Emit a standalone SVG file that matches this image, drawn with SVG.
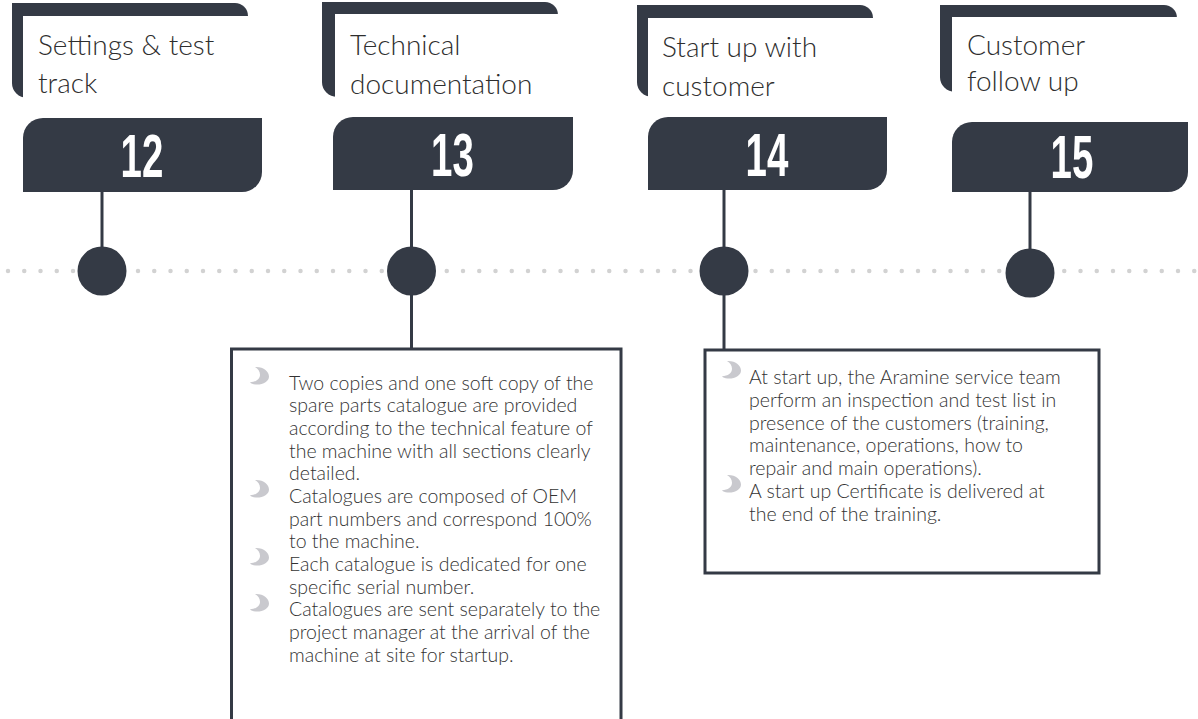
<svg xmlns="http://www.w3.org/2000/svg" width="1198" height="719" viewBox="0 0 1198 719">
<defs>
<style>
.dark{fill:#343a45}
.white{fill:#ffffff}
.title{font-family:Lato,"Liberation Sans",sans-serif;font-weight:300;font-size:28px;fill:#2e2e2e}
.num{font-family:"Liberation Sans",Arial,sans-serif;font-weight:bold;font-size:62px;fill:#ffffff}
.body{font-family:Lato,"Liberation Sans",sans-serif;font-weight:300;font-size:19.5px;fill:#333333}
.conn{stroke:#343a45;stroke-width:3;fill:none}
.box{stroke:#343a45;stroke-width:3;fill:#ffffff}
.bul{fill:#c9c9ce}
</style>
<path id="bullet" d="M5,0 C13.5,-0.5 19,4.5 19,9.5 C19,14.5 13,18 5.5,17.5 C3,17.3 1,16.5 0,15.2 C6,15.2 10,12 10,7.8 C10,4.5 8,1.6 5,0 Z"/>
</defs>
<rect x="0" y="0" width="1198" height="719" fill="#ffffff"/>

<g id="timeline">
<line x1="8" y1="271" x2="1198" y2="271" stroke="#d2d2d2" stroke-width="4.5" stroke-linecap="round" stroke-dasharray="0 16.25"/>
</g>

<g id="connectors">
<line class="conn" x1="102" y1="190" x2="102" y2="255"/>
<line class="conn" x1="411.5" y1="188" x2="411.5" y2="349"/>
<line class="conn" x1="724" y1="188" x2="724" y2="350"/>
<line class="conn" x1="1030" y1="190" x2="1030" y2="258"/>
</g>

<g id="node12">
<path class="dark" d="M12,3 H235 A13,13 0 0 1 248,16 V98 H27 A15,15 0 0 1 12,83 Z"/>
<rect class="white" x="23" y="16" width="240" height="90"/>
<text class="title" x="38" y="55">Settings &amp; test</text>
<text class="title" x="38" y="93">track</text>
<path class="dark" d="M43,118 H262 V172 A20,20 0 0 1 242,192 H23 V138 A20,20 0 0 1 43,118 Z"/>
<text class="num" text-anchor="middle" transform="translate(142,177) scale(0.62,1)">12</text>
<circle class="dark" cx="102" cy="271" r="24.5"/>
</g>

<g id="node13">
<path class="dark" d="M322,2 H545 A13,13 0 0 1 558,15 V97 H337 A15,15 0 0 1 322,82 Z"/>
<rect class="white" x="335" y="14" width="240" height="90"/>
<text class="title" x="350" y="55">Technical</text>
<text class="title" x="350" y="94">documentation</text>
<path class="dark" d="M353,117 H573 V170 A20,20 0 0 1 553,190 H333 V137 A20,20 0 0 1 353,117 Z"/>
<text class="num" text-anchor="middle" transform="translate(452.5,176) scale(0.62,1)">13</text>
<circle class="dark" cx="411.5" cy="271" r="24.5"/>
<rect class="box" x="231.5" y="349" width="389.5" height="390"/>
<g class="bul">
<use href="#bullet" x="250" y="367"/>
<use href="#bullet" x="250" y="480"/>
<use href="#bullet" x="250" y="548"/>
<use href="#bullet" x="250" y="594"/>
</g>
<text class="body" x="289" y="389.5">Two copies and one soft copy of the</text>
<text class="body" x="289" y="412.2">spare parts catalogue are provided</text>
<text class="body" x="289" y="434.8">according to the technical feature of</text>
<text class="body" x="289" y="457.5">the machine with all sections clearly</text>
<text class="body" x="289" y="480.2">detailed.</text>
<text class="body" x="289" y="502.8">Catalogues are composed of OEM</text>
<text class="body" x="289" y="525.5">part numbers and correspond 100%</text>
<text class="body" x="289" y="548.2">to the machine.</text>
<text class="body" x="289" y="570.8">Each catalogue is dedicated for one</text>
<text class="body" x="289" y="593.5">specific serial number.</text>
<text class="body" x="289" y="616.2">Catalogues are sent separately to the</text>
<text class="body" x="289" y="638.8">project manager at the arrival of the</text>
<text class="body" x="289" y="661.5">machine at site for startup.</text>
</g>

<g id="node14">
<path class="dark" d="M637,5 H860 A13,13 0 0 1 873,18 V97 H652 A15,15 0 0 1 637,82 Z"/>
<rect class="white" x="648" y="18" width="240" height="90"/>
<text class="title" x="662" y="57">Start up with</text>
<text class="title" x="662" y="96">customer</text>
<path class="dark" d="M668,117 H887 V170 A20,20 0 0 1 867,190 H648 V137 A20,20 0 0 1 668,117 Z"/>
<text class="num" text-anchor="middle" transform="translate(767,176) scale(0.62,1)">14</text>
<circle class="dark" cx="724" cy="271" r="24.5"/>
<rect class="box" x="705" y="350" width="394" height="223"/>
<g class="bul">
<use href="#bullet" x="722" y="361"/>
<use href="#bullet" x="722" y="475"/>
</g>
<text class="body" x="749" y="384">At start up, the Aramine service team</text>
<text class="body" x="749" y="406.8">perform an inspection and test list in</text>
<text class="body" x="749" y="429.6">presence of the customers (training,</text>
<text class="body" x="749" y="452.4">maintenance, operations, how to</text>
<text class="body" x="749" y="475.2">repair and main operations).</text>
<text class="body" x="749" y="498">A start up Certificate is delivered at</text>
<text class="body" x="749" y="520.8">the end of the training.</text>
</g>

<g id="node15">
<path class="dark" d="M940,5 H1164 A13,13 0 0 1 1177,18 V92 H955 A15,15 0 0 1 940,77 Z"/>
<rect class="white" x="952" y="17" width="240" height="90"/>
<text class="title" x="967" y="55">Customer</text>
<text class="title" x="967" y="91">follow up</text>
<path class="dark" d="M972,122 H1188 V172 A20,20 0 0 1 1168,192 H952 V142 A20,20 0 0 1 972,122 Z"/>
<text class="num" text-anchor="middle" transform="translate(1072,178) scale(0.62,1)">15</text>
<circle class="dark" cx="1030" cy="273" r="24.5"/>
</g>
</svg>
